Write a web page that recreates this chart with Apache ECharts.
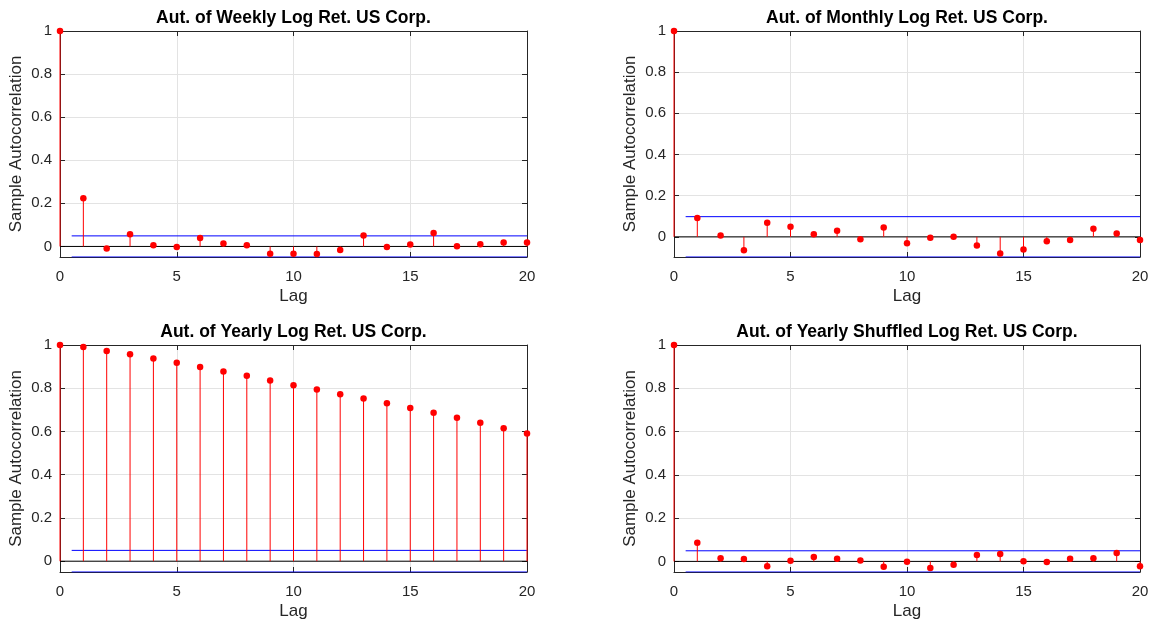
<!DOCTYPE html>
<html>
<head>
<meta charset="utf-8">
<script src="https://cdn.jsdelivr.net/npm/echarts@6/dist/echarts.min.js"></script>
<style>
  html, body { margin: 0; padding: 0; background: #fff; }
  #chart { width: 1154px; height: 628px; }
</style>
</head>
<body>
<div id="chart"></div>
<script>
// lags and tick values
const lags = [0, 1, 2, 3, 4, 5, 6, 7, 8, 9, 10, 11, 12, 13, 14, 15, 16, 17, 18, 19, 20];
const xTicks = [0, 5, 10, 15, 20];
const yTicks = [0, 0.2, 0.4, 0.6, 0.8, 1];

const titles = [
  'Aut. of Weekly Log Ret. US Corp.',
  'Aut. of Monthly Log Ret. US Corp.',
  'Aut. of Yearly Log Ret. US Corp.',
  'Aut. of Yearly Shuffled Log Ret. US Corp.'
];

// sample autocorrelations
const weeklyAcf = [1, 0.224, -0.009, 0.057, 0.006, -0.003, 0.039, 0.014, 0.006, -0.034, -0.034,
  -0.035, -0.017, 0.051, -0.003, 0.009, 0.062, 0.001, 0.010, 0.018, 0.018];
const monthlyAcf = [1, 0.092, 0.006, -0.065, 0.069, 0.049, 0.013, 0.029, -0.012, 0.045, -0.031,
  -0.005, 0.000, -0.042, -0.081, -0.062, -0.021, -0.015, 0.039, 0.016, -0.016];
const yearlyAcf = [1, 0.991, 0.972, 0.957, 0.937, 0.918, 0.898, 0.878, 0.858, 0.836, 0.814,
  0.794, 0.772, 0.752, 0.731, 0.709, 0.687, 0.664, 0.640, 0.615, 0.591];
const shuffledAcf = [1, 0.086, 0.014, 0.011, -0.023, 0.003, 0.020, 0.012, 0.004, -0.025, -0.002,
  -0.030, -0.016, 0.029, 0.034, 0.001, -0.003, 0.012, 0.015, 0.039, -0.023];

// confidence bounds (+/-), drawn from lag 0.5 to 20
const confBounds = [0.049, 0.098, 0.05, 0.049];
const boundStart = 0.5;

const acfs = [weeklyAcf, monthlyAcf, yearlyAcf, shuffledAcf];

const rects = [
  { left: 60, top: 31, width: 467, height: 226 },
  { left: 674, top: 31, width: 466, height: 226 },
  { left: 60, top: 345, width: 467, height: 227 },
  { left: 674, top: 345, width: 466, height: 227 }
];

const FONT = '"Liberation Sans", Arial, Helvetica, sans-serif';
const AXIS_COLOR = '#262626';
const GRID_COLOR = '#e3e3e3';

function renderStem(params, api) {
  const x = api.value(0);
  const p0 = api.coord([x, 0]);
  const p1 = api.coord([x, api.value(1)]);
  return {
    type: 'line',
    shape: { x1: p0[0], y1: p0[1], x2: p1[0], y2: p1[1] },
    style: { stroke: '#ff0000', lineWidth: 1 }
  };
}

const grid = [];
const xAxis = [];
const yAxis = [];
const series = [];

acfs.forEach((acf, i) => {
  const b = confBounds[i];
  const lastLag = lags[lags.length - 1];
  grid.push(Object.assign({ containLabel: false }, rects[i]));

  const tickStyle = { show: true, inside: true, length: 5, lineStyle: { color: AXIS_COLOR } };
  const lineStyle = { show: true, onZero: false, lineStyle: { color: AXIS_COLOR, width: 1 } };

  xAxis.push({
    gridIndex: i, type: 'value', min: lags[0], max: lastLag, interval: 5,
    axisLine: lineStyle,
    axisTick: tickStyle,
    axisLabel: { color: AXIS_COLOR, fontSize: 15, fontFamily: FONT, margin: 12 },
    splitLine: { show: true, lineStyle: { color: GRID_COLOR } },
    name: 'Lag', nameLocation: 'middle', nameGap: 31,
    nameTextStyle: { color: AXIS_COLOR, fontSize: 17, fontFamily: FONT }
  });
  xAxis.push({
    gridIndex: i, type: 'value', position: 'top', min: lags[0], max: lastLag, interval: 5,
    axisLine: lineStyle,
    axisTick: tickStyle,
    axisLabel: { show: false },
    splitLine: { show: false },
    name: titles[i], nameLocation: 'middle', nameGap: 4,
    nameTextStyle: { color: '#000', fontSize: 17.5, fontWeight: 'bold', fontFamily: FONT }
  });
  yAxis.push({
    gridIndex: i, type: 'value', min: -b, max: 1,
    axisLine: lineStyle,
    axisTick: Object.assign({ customValues: yTicks }, tickStyle),
    axisLabel: {
      customValues: yTicks, color: AXIS_COLOR, fontSize: 15, fontFamily: FONT,
      margin: 8, padding: [3, 0, 0, 0]
    },
    splitLine: { show: true, lineStyle: { color: GRID_COLOR } },
    name: 'Sample Autocorrelation', nameLocation: 'middle', nameGap: 35,
    nameTextStyle: { color: AXIS_COLOR, fontSize: 17, fontFamily: FONT }
  });
  yAxis.push({
    gridIndex: i, type: 'value', position: 'right', min: -b, max: 1,
    axisLine: lineStyle,
    axisTick: Object.assign({ customValues: yTicks }, tickStyle),
    axisLabel: { show: false },
    splitLine: { show: false }
  });

  const xi = 2 * i;
  const yi = 2 * i;
  const points = lags.map((l, k) => [l, acf[k]]);

  series.push({
    type: 'line', xAxisIndex: xi, yAxisIndex: yi, silent: true, symbol: 'none',
    data: [[boundStart, b], [lastLag, b]],
    lineStyle: { color: '#0000ff', width: 1 }, z: 3
  });
  series.push({
    type: 'line', xAxisIndex: xi, yAxisIndex: yi, silent: true, symbol: 'none',
    data: [[boundStart, -b], [lastLag, -b]],
    lineStyle: { color: '#0000ff', width: 1 }, z: 3
  });
  series.push({
    type: 'line', xAxisIndex: xi, yAxisIndex: yi, silent: true, symbol: 'none',
    data: [[lags[0], 0], [lastLag, 0]],
    lineStyle: { color: '#000', width: 1 }, z: 3
  });
  series.push({
    type: 'custom', xAxisIndex: xi, yAxisIndex: yi, silent: true,
    renderItem: renderStem, encode: { x: 0, y: 1 },
    data: points, z: 4
  });
  series.push({
    type: 'scatter', xAxisIndex: xi, yAxisIndex: yi, silent: true, clip: false,
    symbol: 'circle', symbolSize: 6.5,
    itemStyle: { color: '#ff0000', opacity: 1 },
    data: points, z: 5
  });
});

const chart = echarts.init(document.getElementById('chart'), null, { renderer: 'canvas' });
chart.setOption({
  animation: false,
  backgroundColor: '#ffffff',
  grid: grid,
  xAxis: xAxis,
  yAxis: yAxis,
  series: series
});
</script>
</body>
</html>
